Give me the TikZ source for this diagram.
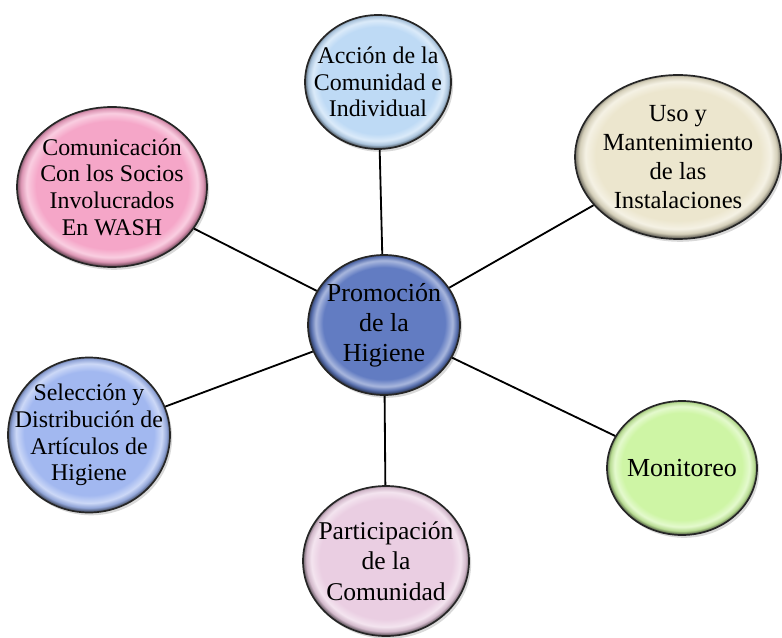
\documentclass[tikz,border=0pt]{standalone}
\usepackage{fontspec}
\setmainfont{Liberation Serif}
\usetikzlibrary{shapes.geometric}
\usetikzlibrary{shadows}

\definecolor{higblue}{RGB}{98,124,194}
\definecolor{accblue}{RGB}{190,218,245}
\definecolor{usobeige}{RGB}{236,230,206}
\definecolor{compink}{RGB}{245,166,200}
\definecolor{selblue}{RGB}{162,184,240}
\definecolor{parpink}{RGB}{234,206,226}
\definecolor{mongreen}{RGB}{206,245,165}

\colorlet{bubcol}{white}
\pgfdeclareradialshading[bubcol]{bubble}{\pgfpoint{0bp}{1bp}}{%
	color(0bp)=(bubcol); color(20bp)=(bubcol); color(22.5bp)=(bubcol!55!white);
	color(24bp)=(bubcol!90!black); color(25bp)=(bubcol!50!black); color(50bp)=(bubcol!50!black)}

\begin{document}
\begin{tikzpicture}[thick,font=\fontsize{17}{19}\selectfont,
	bubble node/.style={ellipse,draw=black!85,line width=1.2pt,inner sep=-2cm,
		align=center,shade,shading=bubble,/utils/exec={\colorlet{bubcol}{#1}},
		drop shadow={opacity=0.3,shadow xshift=1.5pt,shadow yshift=-2pt}}]
	
	\useasboundingbox (0,0) rectangle (19.55,15.925);
	
	\node[bubble node=higblue,minimum width=3.8cm,minimum height=3.5cm,
		font=\fontsize{18.5}{21.5}\selectfont] (hig) at (9.6,7.8) {Promoción\\de la\\Higiene};
	\node[bubble node=accblue,minimum width=3.65cm,minimum height=3.35cm] (acc) at (9.45,13.875) {Acción de la\\Comunidad e\\Individual};
	\node[bubble node=usobeige,minimum width=5.15cm,minimum height=4.1cm,
		font=\fontsize{17.5}{20.5}\selectfont] (uso) at (16.95,12.0) {Uso y\\Mantenimiento\\de las\\Instalaciones};
	\node[bubble node=compink,minimum width=4.75cm,minimum height=4.0cm] (com) at (2.8,11.25) {Comunicación\\Con los Socios\\Involucrados\\En WASH};
	\node[bubble node=selblue,minimum width=4.05cm,minimum height=3.875cm] (sel) at (2.225,5.05) {Selección y\\Distribución de\\Artículos de\\Higiene};
	\node[bubble node=parpink,minimum width=4.15cm,minimum height=3.75cm,
		font=\fontsize{18.2}{21.5}\selectfont] (par) at (9.65,1.9) {Participación\\de la\\Comunidad};
	\node[bubble node=mongreen,minimum width=3.75cm,minimum height=3.35cm,
		font=\fontsize{18.5}{20.5}\selectfont] (mon) at (17.05,4.225) {Monitoreo};
	
	\path[every edge/.style={draw,line width=1.3pt}]
	(hig) edge (acc)
	(hig) edge (uso)
	(hig) edge (mon)
	(hig) edge (par)
	(hig) edge (sel)
	(hig) edge (com)
	;
\end{tikzpicture}
\end{document}
